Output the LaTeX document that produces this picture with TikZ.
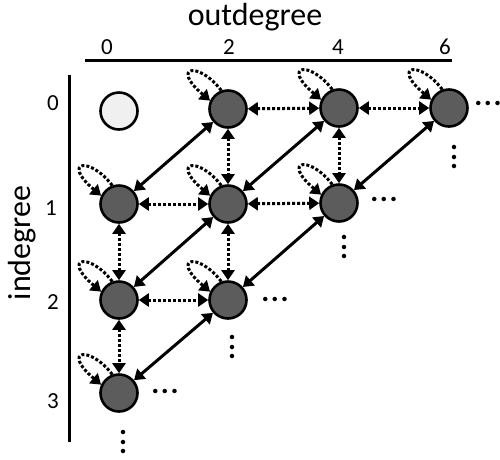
\documentclass[tikz,border=0pt]{standalone}
\usepackage{fontspec}
\setmainfont{Carlito}
\usetikzlibrary{arrows.meta}
\tikzset{
  dk/.style={circle,draw=black,line width=2.6pt,fill=black!64,minimum size=37pt,inner sep=0pt},
  lt/.style={circle,draw=black,line width=2.6pt,fill=black!6,minimum size=37pt,inner sep=0pt},
  dotline/.style={line width=3pt,dash pattern=on 3pt off 2pt,{Triangle[length=10pt,width=13pt]}-{Triangle[length=10pt,width=13pt]}},
  solline/.style={line width=3pt,{Triangle[length=10pt,width=13pt]}-{Triangle[length=10pt,width=13pt]}},
  loopline/.style={line width=3pt,dash pattern=on 3pt off 2pt,-{Triangle[length=10pt,width=13pt]}},
  axlab/.style={font=\fontsize{32}{32}\selectfont,inner sep=0pt},
  numlab/.style={font=\fontsize{23}{23}\selectfont},
  ell/.style={font=\bfseries\fontsize{30}{30}\selectfont,inner sep=0pt}
}
\newcommand\mydots{.\kern1.5pt.\kern1.5pt.}
\begin{document}
\begin{tikzpicture}[x=1pt,y=-1pt]
\useasboundingbox (0,0) rectangle (500,459);
% axes
\node[axlab,anchor=base] (out) at (255,25) {outdegree};
\node[axlab,rotate=90] (in) at (22,243) {indegree};
\coordinate (hl) at (85,60); \coordinate (hr) at (452,60);
\draw[line width=3pt] (hl) -- (hr);
\coordinate (vt) at (69,75); \coordinate (vb) at (69,442);
\draw[line width=3pt] (vt) -- (vb);
\node[numlab] (c0) at (107,47) {0};
\node[numlab] (c2) at (229,47) {2};
\node[numlab] (c4) at (338,47) {4};
\node[numlab] (c6) at (445,47) {6};
\node[numlab] (r0) at (53,103) {0};
\node[numlab] (r1) at (51,208) {1};
\node[numlab] (r2) at (53,302) {2};
\node[numlab] (r3) at (53,401) {3};
% nodes
\node[lt] (n00) at (119,111) {};
\node[dk] (n02) at (228,109) {};
\node[dk] (n04) at (339,108) {};
\node[dk] (n06) at (449,108) {};
\node[dk] (n10) at (119,204) {};
\node[dk] (n12) at (228,204) {};
\node[dk] (n14) at (339,203) {};
\node[dk] (n20) at (119,300) {};
\node[dk] (n22) at (228,300) {};
\node[dk] (n30) at (119,393) {};
% self loops
\foreach \n in {n02,n04,n06,n10,n12,n14,n20,n22,n30}{
  \draw[loopline] (\n.110) .. controls +(-23,-30) and +(-40,-34) .. (\n.155);
}
% horizontal dotted
\draw[dotline] (n02) -- (n04);
\draw[dotline] (n04) -- (n06);
\draw[dotline] (n10) -- (n12);
\draw[dotline] (n12) -- (n14);
\draw[dotline] (n20) -- (n22);
% vertical dotted
\draw[dotline] (n02) -- (n12);
\draw[dotline] (n04) -- (n14);
\draw[dotline] (n10) -- (n20);
\draw[dotline] (n20) -- (n30);
\draw[dotline] (n12) -- (n22);
% diagonal solid
\draw[solline] (n10) -- (n02);
\draw[solline] (n12) -- (n04);
\draw[solline] (n14) -- (n06);
\draw[solline] (n20) -- (n12);
\draw[solline] (n22) -- (n14);
\draw[solline] (n30) -- (n22);
% ellipses
\node[ell] (e06) at (488,103) {\mydots};
\node[ell] (e14) at (384,199) {\mydots};
\node[ell] (e22) at (275,299) {\mydots};
\node[ell] (e30) at (165,391) {\mydots};
\node[ell,rotate=90] (v06) at (454,157) {\mydots};
\node[ell,rotate=90] (v14) at (344,247) {\mydots};
\node[ell,rotate=90] (v22) at (232,347) {\mydots};
\node[ell,rotate=90] (v30) at (123,442) {\mydots};
\end{tikzpicture}
\end{document}
